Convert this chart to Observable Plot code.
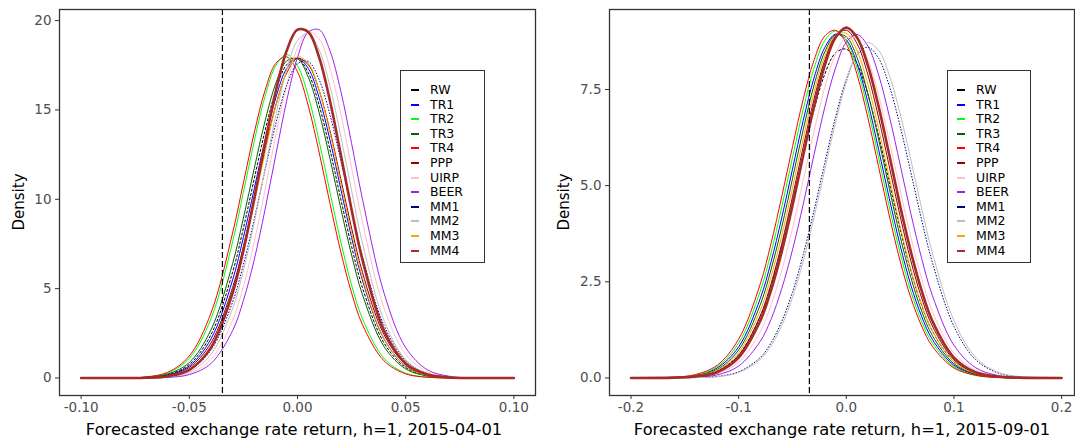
<!DOCTYPE html>
<html>
<head>
<meta charset="utf-8">
<script src="https://cdn.jsdelivr.net/npm/d3@7"></script>
<script src="https://cdn.jsdelivr.net/npm/@observablehq/plot@0.6"></script>
<style>
html,body{margin:0;padding:0;background:#fff;overflow:hidden;}
#wrap{position:relative;width:1075px;height:441px;font-family:"DejaVu Sans",sans-serif;}
.panel{position:absolute;top:0;}
.panel svg text{font-family:"DejaVu Sans",sans-serif;font-size:13.5px;fill:#4d4d4d;}
.xt{position:absolute;font-size:16.3px;color:#000;white-space:nowrap;transform:translate(-50%,-50%);}
.yt{position:absolute;font-size:15px;color:#000;white-space:nowrap;transform:translate(-50%,-50%) rotate(-90deg);}
.leg{position:absolute;border:1.5px solid #333;background:#fff;box-sizing:border-box;}
.key{position:absolute;width:8px;height:2px;}
.lab{position:absolute;font-size:12.5px;line-height:12px;height:12px;color:#000;white-space:nowrap;}
</style>
</head>
<body>
<div id="wrap"></div>
<script>
// ---- series and colours ----
const seriesNames = ["RW","TR1","TR2","TR3","TR4","PPP","UIRP","BEER","MM1","MM2","MM3","MM4"];
const seriesColors = ["#000000","#0000FF","#00FF00","#006400","#FF0000","#8B0000","#FFC0CB","#A020F0","#000080","#BEBEBE","#FFA500","#A52A2A"];

// ---- left panel (2015-04-01) ----
const leftTitle = "Forecasted exchange rate return, h=1, 2015-04-01";
const leftXTicks = [-0.10, -0.05, 0, 0.05, 0.10];
const leftYTicks = [0, 5, 10, 15, 20];
const leftRealized = -0.0347;
const xLeft = [-0.10,-0.08,-0.07,-0.06,-0.05,-0.04,-0.03,-0.025,-0.02,-0.015,-0.01,-0.005,0,0.005,0.01,0.015,0.02,0.025,0.03,0.04,0.05,0.06,0.07,0.08,0.10];
const leftRW   = [0,0,0.03,0.18,0.76,2.42,5.92,8.39,11.14,13.83,16.09,17.53,17.88,17.07,15.27,12.78,10.02,7.36,5.06,1.96,0.59,0.13,0.02,0,0];
const leftTR1  = [0,0,0.03,0.16,0.67,2.18,5.48,7.87,10.58,13.32,15.69,17.32,17.9,17.32,15.69,13.32,10.58,7.87,5.48,2.18,0.67,0.16,0.03,0,0];
const leftTR2  = [0,0,0.05,0.27,1.10,3.32,7.62,10.40,13.25,15.76,17.48,18.1,17.48,15.76,13.25,10.40,7.62,5.20,3.32,1.10,0.27,0.05,0,0,0];
const leftTR3  = [0,0,0.04,0.22,0.87,2.69,6.40,8.95,11.72,14.37,16.50,17.74,17.86,16.83,14.85,12.28,9.50,6.88,4.67,1.76,0.51,0.11,0.02,0,0];
const leftTR4  = [0,0,0.06,0.32,1.23,3.63,8.11,10.92,13.72,16.09,17.61,17.97,17.13,15.22,12.63,9.77,7.06,4.76,2.99,0.96,0.23,0.04,0,0,0];
const leftPPP  = [0,0,0.02,0.13,0.59,1.96,5.06,7.36,10.02,12.78,15.27,17.07,17.88,17.53,16.09,13.83,11.14,8.39,5.92,2.42,0.76,0.18,0.03,0,0];
const leftUIRP = [0,0,0,0.05,0.25,1.04,3.22,5.13,7.61,10.53,13.61,16.41,18.46,19.37,18.98,17.34,14.79,11.77,8.74,3.91,1.33,0.34,0.07,0,0];
const leftBEER = [0,0,0,0.03,0.19,0.81,2.65,4.34,6.62,9.42,12.51,15.51,17.94,19.36,19.49,18.31,16.06,13.13,10.03,4.75,1.70,0.46,0.10,0.01,0];
const leftMM1  = [0,0,0.01,0.10,0.44,1.56,4.25,6.35,8.88,11.63,14.25,16.36,17.59,17.71,16.69,14.73,12.17,9.42,6.82,2.94,0.98,0.25,0.05,0.01,0];
const leftMM2  = [0,0,0,0.07,0.34,1.32,3.89,6.02,8.69,11.71,14.71,17.25,18.88,19.27,18.36,16.32,13.54,10.48,7.57,3.21,1.03,0.25,0.05,0,0];
const leftMM3  = [0,0,0.01,0.10,0.49,1.76,4.76,7.06,9.77,12.63,15.22,17.13,17.97,17.61,16.09,13.72,10.92,8.11,5.62,2.19,0.65,0.15,0.03,0,0];
const leftMM4  = [0,0,0.01,0.10,0.46,1.70,4.75,7.14,10.03,13.13,16.06,18.31,19.49,19.36,17.94,15.51,12.51,9.42,6.62,2.65,0.81,0.19,0.03,0,0];

// ---- right panel (2015-09-01) ----
const rightTitle = "Forecasted exchange rate return, h=1, 2015-09-01";
const rightXTicks = [-0.2, -0.1, 0, 0.1, 0.2];
const rightYTicks = [0, 2.5, 5, 7.5];
const rightRealized = -0.0343;
const xRight = [-0.20,-0.16,-0.14,-0.12,-0.10,-0.08,-0.07,-0.06,-0.05,-0.04,-0.03,-0.02,-0.01,0,0.01,0.02,0.03,0.04,0.05,0.06,0.07,0.08,0.10,0.12,0.14,0.16,0.20];
const rightRW   = [0,0.01,0.04,0.18,0.60,1.60,2.40,3.41,4.58,5.81,6.97,7.90,8.45,8.55,8.17,7.38,6.29,5.07,3.87,2.78,1.89,1.22,0.42,0.12,0.03,0,0];
const rightTR1  = [0,0.01,0.06,0.26,0.81,2.06,3.01,4.16,5.43,6.70,7.80,8.59,8.94,8.79,8.17,7.17,5.94,4.66,3.45,2.41,1.60,1.00,0.33,0.09,0.02,0,0];
const rightTR2  = [0,0.02,0.07,0.29,0.91,2.25,3.25,4.44,5.73,6.99,8.05,8.77,9.02,8.77,8.05,6.99,5.73,4.44,3.25,2.25,1.47,0.91,0.29,0.07,0.02,0,0];
const rightTR3  = [0,0.01,0.06,0.22,0.73,1.90,2.81,3.92,5.18,6.46,7.61,8.48,8.92,8.87,8.33,7.40,6.21,4.92,3.68,2.61,1.74,1.10,0.37,0.10,0.02,0,0];
const rightTR4  = [0,0.02,0.09,0.33,1.01,2.44,3.49,4.71,6.01,7.25,8.26,8.89,9.04,8.69,7.89,6.77,5.49,4.21,3.04,2.08,1.35,0.82,0.26,0.07,0.01,0,0];
const rightPPP  = [0,0.01,0.04,0.17,0.59,1.61,2.44,3.49,4.71,6.01,7.25,8.26,8.89,9.04,8.69,7.89,6.77,5.49,4.21,3.04,2.08,1.35,0.47,0.13,0.03,0,0];
const rightUIRP = [0,0,0.02,0.11,0.41,1.20,1.89,2.79,3.89,5.14,6.41,7.56,8.42,8.86,8.81,8.28,7.35,6.16,4.89,3.66,2.59,1.73,0.65,0.20,0.05,0.01,0];
const rightBEER = [0,0,0.02,0.08,0.31,0.95,1.52,2.32,3.33,4.52,5.80,7.04,8.06,8.73,8.93,8.63,7.88,6.80,5.55,4.27,3.11,2.14,0.85,0.27,0.07,0.01,0];
const rightMM1  = [0,0,0.01,0.04,0.16,0.53,0.91,1.47,2.23,3.21,4.35,5.59,6.78,7.76,8.40,8.60,8.31,7.59,6.55,5.34,4.11,3.00,1.34,0.48,0.14,0.03,0];
const rightMM2  = [0,0,0.01,0.03,0.14,0.48,0.83,1.36,2.09,3.04,4.17,5.42,6.64,7.69,8.43,8.72,8.52,7.87,6.87,5.67,4.41,3.25,1.49,0.54,0.16,0.04,0];
const rightMM3  = [0,0.01,0.05,0.20,0.66,1.75,2.62,3.70,4.94,6.23,7.43,8.37,8.91,8.96,8.51,7.64,6.49,5.20,3.94,2.82,1.91,1.22,0.42,0.12,0.03,0,0];
const rightMM4  = [0,0.01,0.04,0.15,0.53,1.48,2.27,3.28,4.48,5.79,7.06,8.13,8.85,9.11,8.85,8.13,7.06,5.79,4.48,3.28,2.27,1.48,0.53,0.15,0.04,0.01,0];

// ---- build tables ----
function table(xs, ys) {
  const rows = [];
  seriesNames.forEach((s, i) => ys[i].forEach((v, j) => rows.push({series: s, x: xs[j], y: v})));
  return rows;
}
const leftRows = table(xLeft, [leftRW,leftTR1,leftTR2,leftTR3,leftTR4,leftPPP,leftUIRP,leftBEER,leftMM1,leftMM2,leftMM3,leftMM4]);
const rightRows = table(xRight, [rightRW,rightTR1,rightTR2,rightTR3,rightTR4,rightPPP,rightUIRP,rightBEER,rightMM1,rightMM2,rightMM3,rightMM4]);

function lineMarks(rows) {
  return seriesNames.map(s => Plot.line(rows.filter(r => r.series === s), {
    x: "x", y: "y", stroke: "series", curve: "catmull-rom",
    strokeWidth: s === "MM4" ? 2.6 : 1,
    strokeDasharray: s === "RW" ? "3,1.5" : s === "MM1" ? "1.5,1.5" : null,
    strokeLinecap: (s === "RW" || s === "MM1") ? "butt" : "round"
  }));
}

function panel(opts) {
  return Plot.plot({
    width: opts.width, height: 441,
    marginLeft: opts.ml, marginRight: opts.mr, marginTop: 9, marginBottom: 46,
    style: {fontFamily: "DejaVu Sans", fontSize: "13.5px", color: "#333", background: "white", overflow: "visible"},
    x: {domain: opts.xdom, ticks: opts.xticks, tickFormat: opts.xfmt, tickSize: 4, tickPadding: 3, label: null},
    y: {domain: opts.ydom, ticks: opts.yticks, tickFormat: opts.yfmt, tickSize: 4, tickPadding: 4, label: null},
    color: {domain: seriesNames, range: seriesColors},
    marks: [
      ...lineMarks(opts.rows),
      Plot.ruleX([opts.realized], {stroke: "#000", strokeWidth: 1.2, strokeDasharray: "6,3"}),
      Plot.frame({stroke: "#333", strokeWidth: 1.3})
    ]
  });
}

const wrap = document.getElementById("wrap");

const L = panel({width: 540, ml: 59, mr: 5, xdom: [-0.11, 0.11], xticks: leftXTicks, xfmt: d => d.toFixed(2),
  ydom: [-0.98, 20.62], yticks: leftYTicks, yfmt: d => String(d), rows: leftRows, realized: leftRealized});
const R = panel({width: 535, ml: 69, mr: 1, xdom: [-0.22, 0.212], xticks: rightXTicks, xfmt: d => d.toFixed(1),
  ydom: [-0.456, 9.58], yticks: rightYTicks, yfmt: d => d.toFixed(1), rows: rightRows, realized: rightRealized});

function place(node, left) {
  const d = document.createElement("div");
  d.className = "panel";
  d.style.left = left + "px";
  d.appendChild(node);
  wrap.appendChild(d);
}
place(L, 0);
place(R, 540);

function addText(cls, text, x, y) {
  const d = document.createElement("div");
  d.className = cls;
  d.textContent = text;
  d.style.left = x + "px";
  d.style.top = y + "px";
  wrap.appendChild(d);
}
addText("xt", leftTitle, 294, 429);
addText("xt", rightTitle, 842, 429);
addText("yt", "Density", 19, 202);
addText("yt", "Density", 564, 202);

function legend(x, y, w, h, keyX, textX) {
  const box = document.createElement("div");
  box.className = "leg";
  box.style.left = x + "px"; box.style.top = y + "px";
  box.style.width = w + "px"; box.style.height = h + "px";
  seriesNames.forEach((s, i) => {
    const cy = 19 + 14.6 * i;
    const k = document.createElement("div");
    k.className = "key";
    k.style.left = keyX + "px";
    k.style.top = (cy - 1) + "px";
    k.style.background = seriesColors[i];
    box.appendChild(k);
    const t = document.createElement("div");
    t.className = "lab";
    t.textContent = s;
    t.style.left = textX + "px";
    t.style.top = (cy - 6) + "px";
    box.appendChild(t);
  });
  wrap.appendChild(box);
}
legend(400, 70, 85, 193, 10, 29);
legend(947, 70, 84, 193, 9, 28);
</script>
</body>
</html>
